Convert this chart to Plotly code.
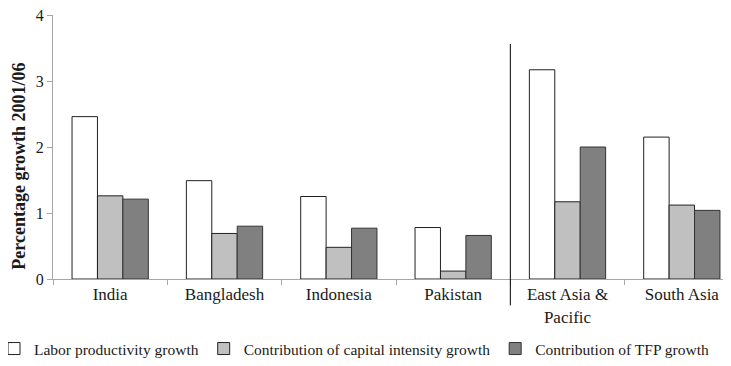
import plotly.graph_objects as go

# Data
regions = ['India', 'Bangladesh', 'Indonesia', 'Pakistan', 'East Asia &<br>Pacific', 'South Asia']
labor = [2.46, 1.49, 1.25, 0.78, 3.17, 2.15]
capital = [1.26, 0.69, 0.48, 0.12, 1.17, 1.12]
tfp = [1.21, 0.80, 0.77, 0.66, 2.00, 1.04]

fig = go.Figure()

fig.add_trace(go.Bar(x=regions, y=labor, name='Labor productivity growth',
                     marker=dict(color='white', line=dict(color='#222222', width=1))))
fig.add_trace(go.Bar(x=regions, y=capital, name='Contribution of capital intensity growth',
                     marker=dict(color='#c0c0c0', line=dict(color='#222222', width=1))))
fig.add_trace(go.Bar(x=regions, y=tfp, name='Contribution of TFP growth',
                     marker=dict(color='#808080', line=dict(color='#333333', width=1))))

# separator between countries and regions
fig.add_shape(type='line', xref='x', yref='paper', x0=3.5, x1=3.5, y0=-0.1, y1=0.89,
              line=dict(color='black', width=1))

# y title sits a bit below the axis middle in the original, so use an annotation
fig.add_annotation(text='Percentage growth 2001/06', textangle=-90, showarrow=False,
                   xref='paper', yref='paper', x=-0.05, y=0.428,
                   xanchor='center', yanchor='middle',
                   font=dict(size=18, weight='bold', color='#1a1a1a'))

# page body has an 8px margin, so the margins are trimmed by that amount
fig.update_layout(
    width=731, height=366,
    margin=dict(l=45, r=0, t=7, b=95, autoexpand=False),
    plot_bgcolor='white', paper_bgcolor='white',
    font=dict(family='Liberation Serif', color='#1a1a1a', size=17),
    barmode='group', bargap=0.333, bargroupgap=0,
    showlegend=True,
    legend=dict(orientation='h', xref='paper', yref='paper', x=-0.086, y=-0.265,
                xanchor='left', yanchor='middle', font=dict(size=15.5),
                bgcolor='rgba(0,0,0,0)', itemclick=False),
)

fig.update_xaxes(type='category', showline=True, linecolor='#a6a6a6', linewidth=1,
                 ticks='outside', tickson='boundaries', ticklen=5, tickcolor='#a6a6a6',
                 showgrid=False, tickfont=dict(size=17), automargin=False)
fig.update_yaxes(range=[0, 4], dtick=1, showline=True, linecolor='#a6a6a6', linewidth=1,
                 ticks='outside', ticklen=5, tickcolor='#a6a6a6', ticklabeloverflow='allow',
                 showgrid=False, zeroline=False, tickfont=dict(size=16), automargin=False)

fig.write_html("out.html")
